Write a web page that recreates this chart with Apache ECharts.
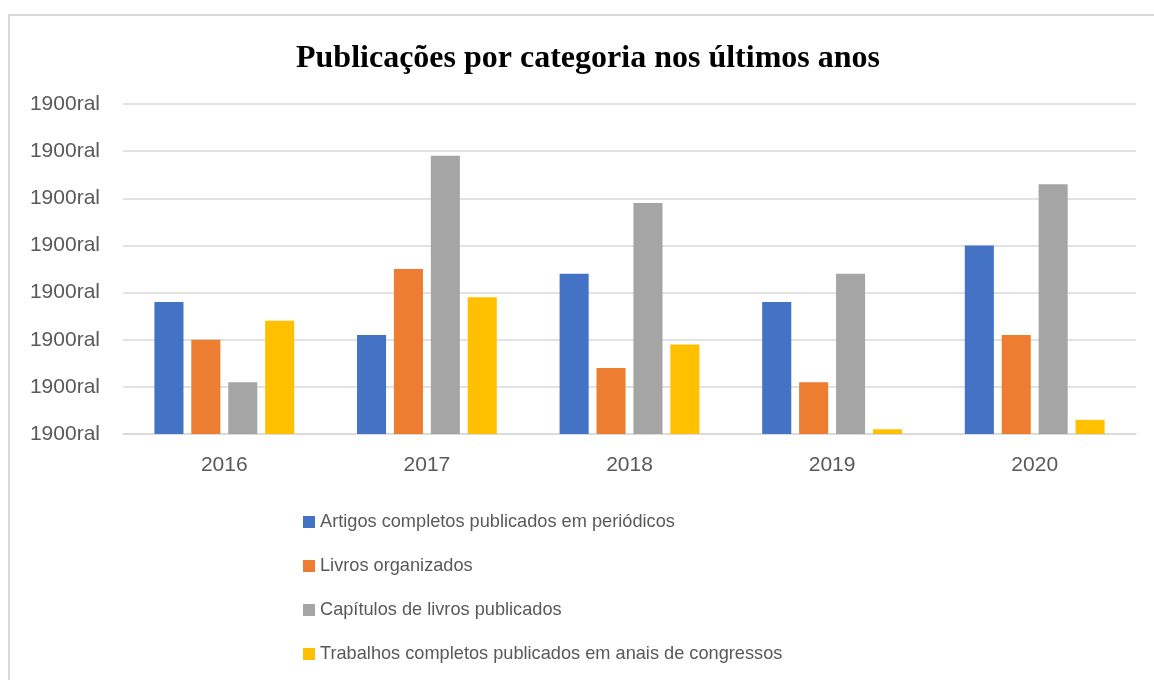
<!DOCTYPE html>
<html>
<head>
<meta charset="utf-8">
<script src="https://cdn.jsdelivr.net/npm/echarts@6/dist/echarts.min.js"></script>
<style>
  html, body { margin: 0; padding: 0; background: #fff; }
  #chart { width: 1154px; height: 680px; }
</style>
</head>
<body>
<div id="chart"></div>
<script>
// dados
var anos = ['2016', '2017', '2018', '2019', '2020'];
var artigos = [28, 21, 34, 28, 40];
var livros = [20, 35, 14, 11, 21];
var capitulos = [11, 59, 49, 34, 53];
var trabalhos = [24, 29, 19, 1, 3];
// o eixo original mostra sempre o mesmo texto
var rotulosY = ['1900ral', '1900ral', '1900ral', '1900ral', '1900ral', '1900ral', '1900ral', '1900ral'];

var cores = ['#4472C4', '#ED7D31', '#A5A5A5', '#FFC000'];
var fonte = 'Liberation Sans';

var chart = echarts.init(document.getElementById('chart'));

function serie(nome, dados) {
  return { name: nome, type: 'bar', data: dados, barGap: '27%', barCategoryGap: '31%' };
}

chart.setOption({
  animation: false,
  color: cores,
  graphic: [{
    type: 'rect',
    shape: { x: 9, y: 15, width: 1200, height: 700 },
    style: { fill: 'none', stroke: '#d9d9d9', lineWidth: 2 }
  }],
  title: {
    text: 'Publicações por categoria nos últimos anos',
    left: 583,
    textAlign: 'center',
    top: 38,
    textStyle: { fontFamily: 'Liberation Serif', fontSize: 32, fontWeight: 'bold', color: '#000' }
  },
  grid: { left: 123, right: 18, top: 104, bottom: 246, containLabel: false },
  xAxis: {
    type: 'category',
    data: anos,
    axisLine: { lineStyle: { color: '#d9d9d9', width: 1.5 } },
    axisTick: { show: false },
    axisLabel: { color: '#595959', fontFamily: fonte, fontSize: 21, margin: 21 }
  },
  yAxis: {
    type: 'value',
    min: 0, max: 70, interval: 10,
    axisLine: { show: false },
    axisTick: { show: false },
    splitLine: { lineStyle: { color: '#d9d9d9', width: 1.5 } },
    axisLabel: {
      color: '#595959', fontFamily: fonte, fontSize: 21, margin: 23,
      formatter: function (v) { return rotulosY[Math.round(v / 10)]; }
    }
  },
  legend: {
    orient: 'vertical',
    left: 298,
    top: 508,
    itemWidth: 12,
    itemHeight: 12,
    itemGap: 26,
    icon: 'rect',
    textStyle: { color: '#595959', fontFamily: fonte, fontSize: 18.2 }
  },
  series: [
    serie('Artigos completos publicados em periódicos', artigos),
    serie('Livros organizados', livros),
    serie('Capítulos de livros publicados', capitulos),
    serie('Trabalhos completos publicados em anais de congressos', trabalhos)
  ]
});
</script>
</body>
</html>
